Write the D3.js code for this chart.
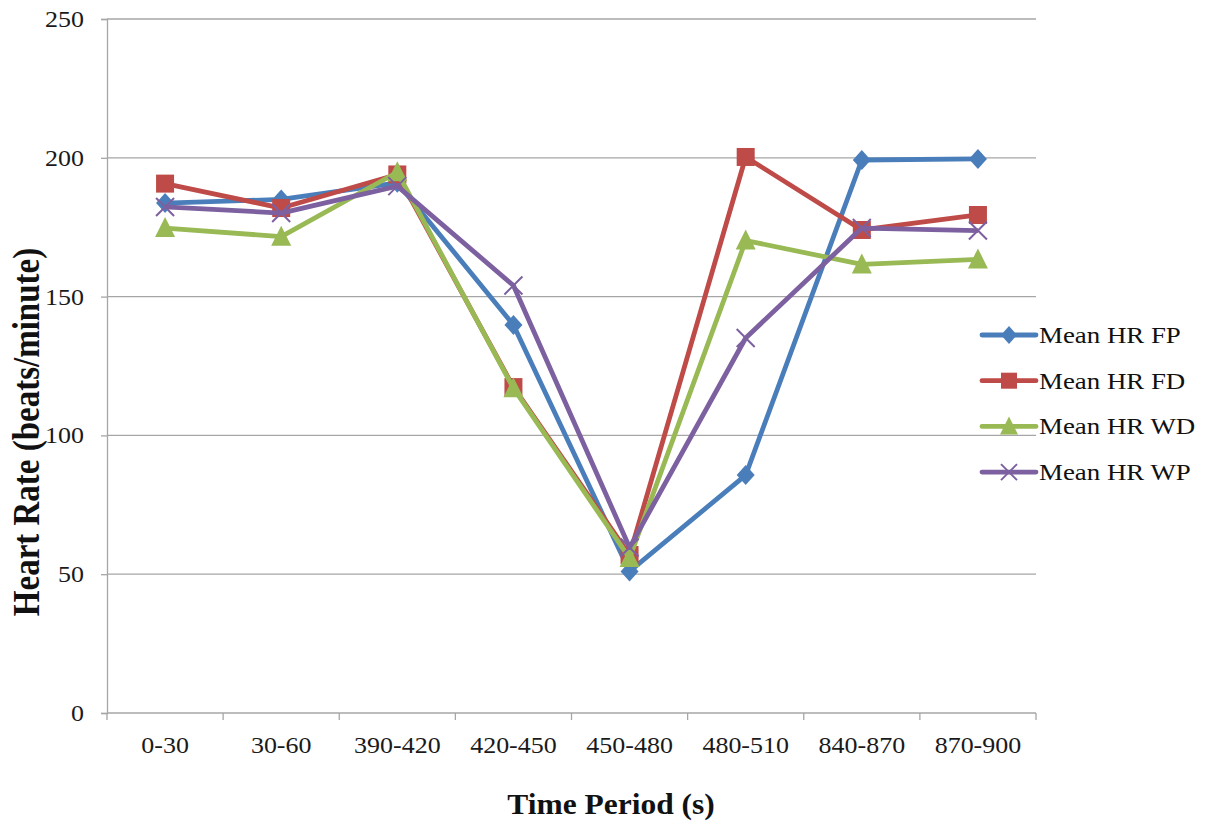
<!DOCTYPE html>
<html>
<head>
<meta charset="utf-8">
<script src="https://cdn.jsdelivr.net/npm/d3@7/dist/d3.min.js"></script>
<style>
  html, body { margin: 0; padding: 0; background: #fff; }
  svg { display: block; font-family: "Liberation Serif", "Times New Roman", serif; }
</style>
</head>
<body>
<svg id="chart" width="1212" height="825"></svg>
<script>
// Time windows (s)
const categories = ["0-30", "30-60", "390-420", "420-450", "450-480", "480-510", "840-870", "870-900"];

// Mean heart rate per window (beats/minute)
const meanHrFP = [183.7, 185.0, 191.0, 139.8, 51.0, 85.7, 199.2, 199.6];
const meanHrFD = [190.7, 181.9, 194.0, 117.4, 56.9, 200.3, 174.0, 179.4];
const meanHrWD = [174.7, 171.6, 194.8, 117.0, 55.8, 170.2, 161.6, 163.4];
const meanHrWP = [182.3, 180.1, 189.8, 154.0, 59.6, 135.1, 174.7, 173.8];

const yTicks = [0, 50, 100, 150, 200, 250];

const series = [
  { name: "Mean HR FP", values: meanHrFP, color: "#4a7ebb", marker: "diamond" },
  { name: "Mean HR FD", values: meanHrFD, color: "#be4b48", marker: "square" },
  { name: "Mean HR WD", values: meanHrWD, color: "#98b954", marker: "triangle" },
  { name: "Mean HR WP", values: meanHrWP, color: "#7d60a0", marker: "cross" }
];

const svg = d3.select("#chart");
const plot = { left: 107, right: 1036, top: 19, bottom: 713 };
const stretch = 1.13;   // wide text setting used throughout the chart
const gridColor = "#a6a6a6";

const x = d3.scaleBand().domain(categories).range([plot.left, plot.right]);
const y = d3.scaleLinear().domain([0, 250]).range([plot.bottom, plot.top]);
const cx = c => x(c) + x.bandwidth() / 2;

// Text helper: places a horizontally widened label
function label(parent, px, py, str, opts = {}) {
  return parent.append("text")
    .attr("transform", `translate(${px},${py}) scale(${opts.sx || stretch},1)`)
    .attr("text-anchor", opts.anchor || "middle")
    .attr("font-size", opts.size || 23)
    .attr("font-weight", opts.weight || "normal")
    .attr("fill", opts.fill || "#1a1a1a")
    .text(str);
}

// Horizontal gridlines
svg.append("g")
  .selectAll("line")
  .data(yTicks.filter(t => t > 0))
  .join("line")
  .attr("x1", plot.left).attr("x2", plot.right)
  .attr("y1", d => y(d)).attr("y2", d => y(d))
  .attr("stroke", gridColor).attr("stroke-width", 1.3);

// Y axis (line + outward ticks from d3.axisLeft, labels placed separately)
const yAxis = svg.append("g")
  .attr("transform", `translate(${plot.left},0)`)
  .call(d3.axisLeft(y).tickValues(yTicks).tickSize(6).tickFormat(""));
yAxis.select(".domain").attr("stroke", gridColor).attr("stroke-width", 1.3);
yAxis.selectAll(".tick line").attr("stroke", gridColor).attr("stroke-width", 1.3);
const yLabels = svg.append("g");
yTicks.forEach(t => label(yLabels, 84, y(t) + 8, String(t), { anchor: "end" }));

// X axis with ticks on category boundaries
const xAxis = svg.append("g").attr("transform", `translate(0,${plot.bottom})`);
xAxis.append("line")
  .attr("x1", plot.left).attr("x2", plot.right)
  .attr("stroke", gridColor).attr("stroke-width", 1.3);
const boundaries = categories.map(c => x(c)).concat([x(categories[categories.length - 1]) + x.bandwidth()]);
xAxis.selectAll("line.tk")
  .data(boundaries)
  .join("line").attr("class", "tk")
  .attr("x1", d => d).attr("x2", d => d)
  .attr("y1", 0).attr("y2", 7)
  .attr("stroke", gridColor).attr("stroke-width", 1.3);
categories.forEach(c => label(xAxis, cx(c), 40, c));

// Marker shapes
function drawMarker(g, marker, color, size) {
  const s = size / 2;
  if (marker === "diamond") {
    g.append("path").attr("d", `M0,${-s}L${s - 1},0L0,${s}L${-s + 1},0Z`).attr("fill", color);
  } else if (marker === "square") {
    g.append("rect").attr("x", -s + 1).attr("y", -s + 1).attr("width", size - 2).attr("height", size - 2).attr("fill", color);
  } else if (marker === "triangle") {
    g.append("path").attr("d", `M0,${-s - 1}L${s},${s - 1}L${-s},${s - 1}Z`).attr("fill", color);
  } else {
    const c = s - 1;
    g.append("path").attr("d", `M${-c},${-c}L${c},${c}M${-c},${c}L${c},${-c}`)
      .attr("stroke", color).attr("stroke-width", 2).attr("fill", "none");
  }
}

const line = d3.line()
  .x((d, i) => cx(categories[i]))
  .y(d => y(d));

series.forEach(s => {
  const g = svg.append("g");
  g.append("path")
    .datum(s.values)
    .attr("d", line)
    .attr("fill", "none")
    .attr("stroke", s.color)
    .attr("stroke-width", 4.8)
    .attr("stroke-linejoin", "round");
  s.values.forEach((v, i) => {
    const m = g.append("g").attr("transform", `translate(${cx(categories[i])},${y(v)})`);
    drawMarker(m, s.marker, s.color, 20);
  });
});

// Legend
const legend = svg.append("g").attr("transform", "translate(982,335)");
series.forEach((s, i) => {
  const row = legend.append("g").attr("transform", `translate(0,${i * 45.7})`);
  row.append("line").attr("x1", 0).attr("x2", 54).attr("y1", 0).attr("y2", 0)
    .attr("stroke", s.color).attr("stroke-width", 4.8).attr("stroke-linecap", "round");
  const m = row.append("g").attr("transform", "translate(27,0)");
  drawMarker(m, s.marker, s.color, 18);
  label(row, 57, 8, s.name, { anchor: "start", size: 24, sx: 1.12, fill: "#111" });
});

// Axis titles
label(svg, 611, 814, "Time Period (s)", { size: 30, weight: "bold", sx: 1.05, fill: "#111" });

svg.append("text")
  .attr("transform", `translate(39,432) rotate(-90) scale(1,${stretch})`)
  .attr("text-anchor", "middle")
  .attr("font-size", 33).attr("font-weight", "bold").attr("fill", "#111")
  .text("Heart Rate (beats/minute)");
</script>
</body>
</html>
